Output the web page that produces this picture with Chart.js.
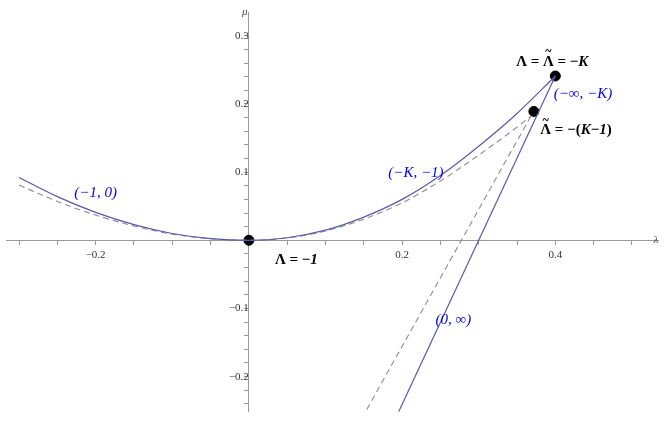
<!DOCTYPE html>
<html>
<head>
<meta charset="utf-8">
<script src="https://cdn.jsdelivr.net/npm/chart.js@4"></script>
<style>
  html, body { margin:0; padding:0; background:#fff; }
  #wrap { width:664px; height:424px; }
</style>
</head>
<body>
<div id="wrap"><canvas id="c"></canvas></div>
<script>
// values (lambda, mu)
const solidLam = [-0.30, -0.25, -0.20, -0.15, -0.10, -0.05, 0, 0.05, 0.10, 0.15, 0.20, 0.25, 0.30, 0.35, 0.40];
const solidMu  = [0.092, 0.064, 0.041, 0.023, 0.010, 0.0025, 0, 0.0037, 0.0148, 0.034, 0.060, 0.095, 0.138, 0.186, 0.241];
const dashLam  = [-0.30, -0.25, -0.20, -0.15, -0.10, -0.05, 0, 0.05, 0.10, 0.15, 0.20, 0.25, 0.30, 0.35, 0.368];
const dashMu   = [0.081, 0.057, 0.037, 0.021, 0.009, 0.0022, 0, 0.0034, 0.0137, 0.031, 0.055, 0.087, 0.125, 0.166, 0.182];
const solidLine = [[0.40, 0.241], [0.192, -0.26]];
const dashLine  = [[0.368, 0.182], [0.148, -0.26]];
const dots = [[0, 0], [0.40, 0.241], [0.372, 0.189]];

const xTicks = [-0.30, -0.25, -0.20, -0.15, -0.10, -0.05, 0.05, 0.10, 0.15, 0.20, 0.25, 0.30, 0.35, 0.40, 0.45, 0.50];
const xLabels = [-0.2, 0.2, 0.4];
const yTicks = [-0.24, -0.22, -0.2, -0.18, -0.16, -0.14, -0.12, -0.1, -0.08, -0.06, -0.04, -0.02,
                0.02, 0.04, 0.06, 0.08, 0.1, 0.12, 0.14, 0.16, 0.18, 0.2, 0.22, 0.24, 0.26, 0.28, 0.3];
const yLabels = [-0.2, -0.1, 0.1, 0.2, 0.3];

// [text, lambda, mu]
const blueLabels = [
  ['(\u22121, 0)', -0.20, 0.069],
  ['(\u2212K, \u22121)', 0.218, 0.099],
  ['(\u2212\u221E, \u2212K)', 0.436, 0.214],
  ['(0, \u221E)', 0.267, -0.117]
];
// [parts, lambda, mu]; part = [text, italic, tilde]
const blackLabels = [
  [[['\u039B'], [' = '], ['\u039B', 0, 1], [' = \u2212'], ['K', 1]], 0.396, 0.262],
  [[['\u039B', 0, 1], [' = \u2212('], ['K', 1], ['\u2212'], ['1', 1], [')']], 0.427, 0.161],
  [[['\u039B'], [' = \u2212'], ['1', 1]], 0.062, -0.029]
];

const blue = '#5a5aaa';
const gray = '#8c8c8c';
const pts = (xs, ys) => xs.map((x, i) => ({x: x, y: ys[i]}));
const pairPts = a => a.map(p => ({x: p[0], y: p[1]}));
const near = (v, list) => list.some(t => Math.abs(t - v) < 1e-6);
const fmt = v => v < 0 ? '\u2212' + Math.abs(v).toFixed(1) : v.toFixed(1);

const labelPlugin = {
  id: 'labels',
  afterDatasetsDraw(chart) {
    const ctx = chart.ctx, xs = chart.scales.x, ys = chart.scales.y;
    ctx.save();
    ctx.textBaseline = 'middle';
    ctx.textAlign = 'center';
    ctx.fillStyle = '#0000ee';
    ctx.font = 'italic 15px "Liberation Serif"';
    blueLabels.forEach(l => ctx.fillText(l[0], xs.getPixelForValue(l[1]), ys.getPixelForValue(l[2])));
    ctx.fillStyle = '#000';
    ctx.textAlign = 'left';
    const fontOf = p => (p[1] ? 'italic ' : '') + 'bold 15px "Liberation Serif"';
    blackLabels.forEach(l => {
      let w = 0;
      l[0].forEach(p => { ctx.font = fontOf(p); w += ctx.measureText(p[0]).width; });
      let x = xs.getPixelForValue(l[1]) - w / 2;
      const y = ys.getPixelForValue(l[2]);
      l[0].forEach(p => {
        ctx.font = fontOf(p);
        const pw = ctx.measureText(p[0]).width;
        ctx.fillText(p[0], x, y);
        if (p[2]) {
          ctx.font = 'bold 12px "Liberation Serif"';
          ctx.textAlign = 'center';
          ctx.fillText('~', x + pw / 2, y - 10);
          ctx.textAlign = 'left';
        }
        x += pw;
      });
    });
    ctx.fillStyle = '#444';
    ctx.textAlign = 'center';
    ctx.font = 'italic 11px "Liberation Serif"';
    ctx.fillText('\u03BB', 656, ys.getPixelForValue(0));
    ctx.fillText('\u03BC', xs.getPixelForValue(0) - 4, 12);
    ctx.restore();
  }
};

new Chart(document.getElementById('c'), {
  type: 'scatter',
  data: {
    datasets: [
      {data: pts(solidLam, solidMu), showLine: true, borderColor: blue, borderWidth: 1.2, pointRadius: 0, cubicInterpolationMode: 'monotone'},
      {data: pts(dashLam, dashMu), showLine: true, borderColor: gray, borderWidth: 1.1, borderDash: [6, 4], pointRadius: 0, cubicInterpolationMode: 'monotone'},
      {data: pairPts(solidLine), showLine: true, borderColor: blue, borderWidth: 1.2, pointRadius: 0},
      {data: pairPts(dashLine), showLine: true, borderColor: gray, borderWidth: 1.1, borderDash: [6, 4], pointRadius: 0},
      {data: pairPts(dots), pointRadius: 5, backgroundColor: '#000', borderColor: '#000'}
    ]
  },
  options: {
    responsive: true, maintainAspectRatio: false, animation: false,
    layout: {padding: 0},
    plugins: {legend: {display: false}, tooltip: {enabled: false}},
    scales: {
      x: {
        type: 'linear', position: {y: 0}, min: -0.317, max: 0.534,
        afterBuildTicks: s => { s.ticks = xTicks.map(v => ({value: v})); },
        border: {color: '#999', width: 1},
        grid: {drawOnChartArea: false, drawTicks: true, tickLength: 4, color: '#999'},
        ticks: {autoSkip: false, maxRotation: 0, padding: 4, color: '#333', font: {family: 'Liberation Serif', size: 11},
                callback: v => near(v, xLabels) ? fmt(v) : ''}
      },
      y: {
        type: 'linear', position: {x: 0}, min: -0.251, max: 0.334,
        afterBuildTicks: s => { s.ticks = yTicks.map(v => ({value: v})); },
        border: {color: '#999', width: 1},
        grid: {drawOnChartArea: false, drawTicks: true, tickLength: 4, color: '#999'},
        ticks: {autoSkip: false, padding: 6, color: '#333', font: {family: 'Liberation Serif', size: 11},
                callback: v => near(v, yLabels) ? fmt(v) : ''}
      }
    }
  },
  plugins: [labelPlugin]
});
</script>
</body>
</html>
